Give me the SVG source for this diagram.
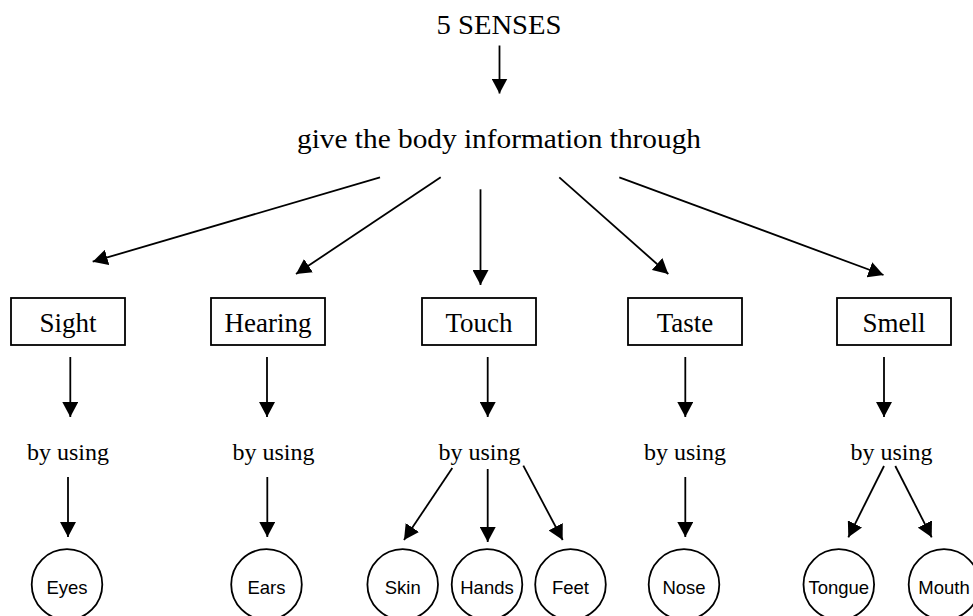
<svg xmlns="http://www.w3.org/2000/svg" width="973" height="616" viewBox="0 0 973 616">
<style>
.t{font-family:"Liberation Serif","Times New Roman",serif;fill:#000;text-anchor:middle}
.big{font-size:28px}
.box{font-size:27px}
.by{font-size:24px}
.c{font-family:"Liberation Sans",Arial,sans-serif;font-size:18.5px;fill:#000;text-anchor:middle}
rect{fill:#fff;stroke:#000;stroke-width:1.8}
circle{fill:#fff;stroke:#000;stroke-width:1.8}
.e line{stroke:#000;stroke-width:1.8;marker-end:url(#ah)}
</style>
<defs>
<marker id="ah" markerUnits="userSpaceOnUse" markerWidth="16" markerHeight="16" refX="15" refY="8" orient="auto" viewBox="0 0 16 16">
<path d="M0,0 L15,8 L0,16 Z" fill="#000"/>
</marker>
</defs>
<rect width="973" height="616" fill="#fff" style="stroke:none"/>
<g id="senses"><text class="t big" x="499" y="33.5" textLength="125" lengthAdjust="spacingAndGlyphs">5 SENSES</text></g>
<g id="give"><text class="t big" x="499" y="147.5" textLength="404" lengthAdjust="spacingAndGlyphs">give the body information through</text></g>
<g id="sight"><rect x="11" y="298" width="114" height="47"/><text class="t box" x="68" y="332">Sight</text></g>
<g id="hearing"><rect x="211" y="298" width="114" height="47"/><text class="t box" x="268" y="332">Hearing</text></g>
<g id="touch"><rect x="422" y="298" width="114" height="47"/><text class="t box" x="479" y="332">Touch</text></g>
<g id="taste"><rect x="628" y="298" width="114" height="47"/><text class="t box" x="685" y="332">Taste</text></g>
<g id="smell"><rect x="837" y="298" width="114" height="47"/><text class="t box" x="894" y="332">Smell</text></g>
<g id="by1"><text class="t by" x="68" y="459.5">by using</text></g>
<g id="by2"><text class="t by" x="273.5" y="459.5">by using</text></g>
<g id="by3"><text class="t by" x="479.5" y="459.5">by using</text></g>
<g id="by4"><text class="t by" x="685" y="459.5">by using</text></g>
<g id="by5"><text class="t by" x="891.5" y="459.5">by using</text></g>
<g id="eyes"><circle cx="67" cy="584.5" r="35.3"/><text class="c" x="67" y="594">Eyes</text></g>
<g id="ears"><circle cx="266.5" cy="584.5" r="35.3"/><text class="c" x="266.5" y="594">Ears</text></g>
<g id="skin"><circle cx="402.7" cy="584.5" r="35.3"/><text class="c" x="402.7" y="594">Skin</text></g>
<g id="hands"><circle cx="487" cy="584.5" r="35.3"/><text class="c" x="487" y="594">Hands</text></g>
<g id="feet"><circle cx="570.5" cy="584.5" r="35.3"/><text class="c" x="570.5" y="594">Feet</text></g>
<g id="nose"><circle cx="684" cy="584.5" r="35.3"/><text class="c" x="684" y="594">Nose</text></g>
<g id="tongue"><circle cx="838.8" cy="584.5" r="35.3"/><text class="c" x="838.8" y="594">Tongue</text></g>
<g id="mouth"><circle cx="944" cy="584.5" r="35.3"/><text class="c" x="944" y="594">Mouth</text></g>
<g id="connectors" class="e">
<line x1="499.5" y1="45.5" x2="499.5" y2="93.5"/>
<line x1="380" y1="177.3" x2="92.7" y2="261.7"/>
<line x1="440.7" y1="177.3" x2="296" y2="274"/>
<line x1="480.5" y1="189.3" x2="480.5" y2="285"/>
<line x1="559.3" y1="177.3" x2="668.3" y2="274"/>
<line x1="619.3" y1="177.3" x2="883.5" y2="275"/>
<line x1="70.3" y1="357" x2="70.3" y2="417"/>
<line x1="267" y1="357" x2="267" y2="417"/>
<line x1="487.7" y1="357" x2="487.7" y2="417"/>
<line x1="685.3" y1="357" x2="685.3" y2="417"/>
<line x1="884" y1="357" x2="884" y2="417"/>
<line x1="68" y1="477" x2="68" y2="537"/>
<line x1="267.3" y1="477" x2="267.3" y2="537"/>
<line x1="452.3" y1="468" x2="404" y2="540"/>
<line x1="487.7" y1="469" x2="487.7" y2="542"/>
<line x1="523.3" y1="465.7" x2="562.7" y2="540"/>
<line x1="685.3" y1="477" x2="685.3" y2="537"/>
<line x1="884" y1="466" x2="848.3" y2="537.3"/>
<line x1="895.3" y1="466" x2="931.7" y2="537.3"/>
</g>
</svg>
